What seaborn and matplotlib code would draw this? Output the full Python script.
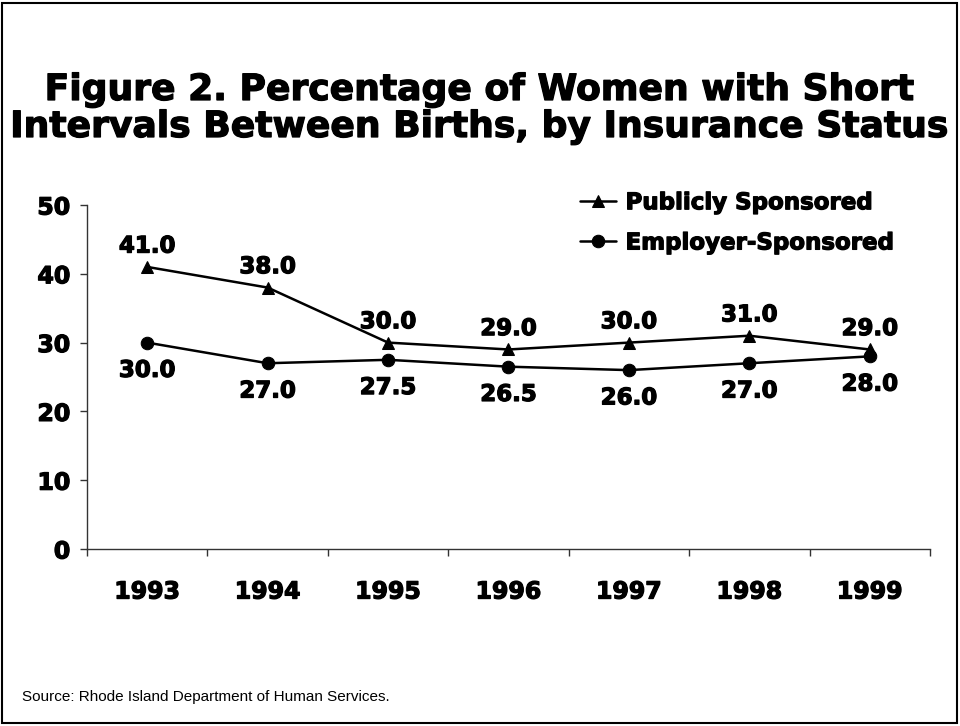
import matplotlib
matplotlib.use("Agg")
import matplotlib.pyplot as plt
import matplotlib.patheffects as pe
import seaborn as sns
import pandas as pd
from matplotlib.patches import Rectangle

years = ["1993", "1994", "1995", "1996", "1997", "1998", "1999"]
public = [41.0, 38.0, 30.0, 29.0, 30.0, 31.0, 29.0]
employer = [30.0, 27.0, 27.5, 26.5, 26.0, 27.0, 28.0]
series_names = ["Publicly Sponsored", "Employer-Sponsored"]

sns.set_theme(style="white")
plt.rcParams['font.family'] = ['DejaVu Sans']
plt.rcParams['text.color'] = 'black'
plt.rcParams['xtick.color'] = 'black'
plt.rcParams['ytick.color'] = 'black'

heavy = [pe.withStroke(linewidth=0.9, foreground="black")]

fig = plt.figure(figsize=(9.6, 7.26), dpi=100)
ax = fig.add_axes([87/960, 1-549/726, (930-87)/960, (549-205)/726])

idx = list(range(len(years)))
df = pd.DataFrame({"x": idx, "public": public, "employer": employer})

sns.lineplot(data=df, x="x", y="public", ax=ax, color="black", marker="^",
             markersize=9, linewidth=1.8, markeredgecolor="black", label=series_names[0])
sns.lineplot(data=df, x="x", y="employer", ax=ax, color="black", marker="o",
             markersize=9, linewidth=1.8, markeredgecolor="black", label=series_names[1])

for i, v in enumerate(public):
    ax.annotate(f"{v:.1f}", (i, v), xytext=(0, 15), textcoords="offset points",
                ha="center", va="center", fontsize=16.5, fontweight="bold", color="black",
                path_effects=heavy)
for i, v in enumerate(employer):
    ax.annotate(f"{v:.1f}", (i, v), xytext=(0, -20), textcoords="offset points",
                ha="center", va="center", fontsize=16.5, fontweight="bold", color="black",
                path_effects=heavy)

ax.set_xlim(-0.5, 6.5)
ax.set_ylim(0, 50)
ax.set_xticks(idx)
ax.set_xticklabels(years, fontsize=17, fontweight="bold")
ax.set_xticks([i - 0.5 for i in range(len(years) + 1)], minor=True)
ax.set_yticks([0, 10, 20, 30, 40, 50])
ax.set_yticklabels(["0", "10", "20", "30", "40", "50"], fontsize=17, fontweight="bold")
for t in ax.get_xticklabels() + ax.get_yticklabels():
    t.set_path_effects(heavy)
ax.tick_params(axis="x", which="major", length=0, pad=22)
ax.tick_params(axis="x", which="minor", length=5, width=1, direction="out", color="#333333", bottom=True)
ax.tick_params(axis="y", length=5, width=1, direction="out", color="#333333", left=True, pad=7)
ax.set_xlabel("")
ax.set_ylabel("")
for s in ["top", "right"]:
    ax.spines[s].set_visible(False)
for s in ["left", "bottom"]:
    ax.spines[s].set_color("#333333")
    ax.spines[s].set_linewidth(1)

leg = ax.legend(loc="upper left", bbox_to_anchor=(0.56, 1.10), frameon=False,
                prop={"size": 16.5, "weight": "bold"}, handlelength=1.6,
                handletextpad=0.4, labelspacing=0.75)
for t in leg.get_texts():
    t.set_color("black")
    t.set_path_effects(heavy)

fig.text(0.5, 1-90/726, "Figure 2. Percentage of Women with Short", ha="center", va="center",
         fontsize=26, fontweight="bold", color="black", path_effects=heavy)
fig.text(0.5, 1-127/726, "Intervals Between Births, by Insurance Status", ha="center", va="center",
         fontsize=26, fontweight="bold", color="black", path_effects=heavy)
fig.text(22/960, 1-697/726, "Source: Rhode Island Department of Human Services.",
         ha="left", va="center", fontsize=11, family="Liberation Sans", color="black")

fig.patches.append(Rectangle((2/960, 3/726), 955/960, 720/726, transform=fig.transFigure,
                             fill=False, edgecolor="black", linewidth=1.5))

fig.savefig("out.png", dpi=100)
